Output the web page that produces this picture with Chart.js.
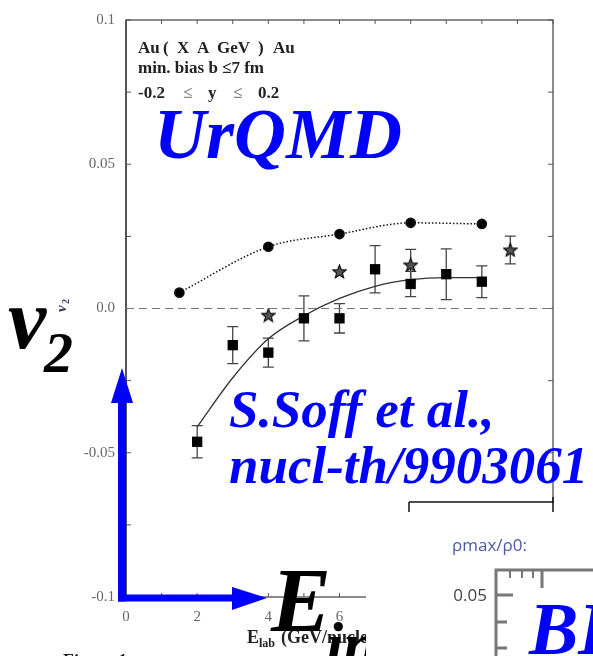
<!DOCTYPE html>
<html>
<head>
<meta charset="utf-8">
<script src="https://cdn.jsdelivr.net/npm/chart.js@4.4.1/dist/chart.umd.min.js"></script>
<style>
  html, body { margin: 0; padding: 0; background: #fff; }
  #wrap { position: relative; width: 593px; height: 656px; }
</style>
</head>
<body>
<div id="wrap"><canvas id="chart" width="593" height="656"></canvas></div>
<script>
// v2 at midrapidity vs beam energy, Au+Au (UrQMD vs data)

// axis ranges and tick labels
const xRange = [0, 12];
const yRange = [-0.1, 0.1];
const yTickLabels = ['-0.1', '-0.05', '0.0', '0.05', '0.1'];

// UrQMD (circles, dotted line)
const energyUrqmd = [1.5, 4, 6, 8, 10];
const v2Urqmd = [0.0055, 0.0214, 0.0258, 0.0297, 0.0293];

// data (squares)
const energyData = [2, 3, 4, 5, 6, 7, 8, 9, 10];
const v2Data = [-0.0462, -0.0127, -0.0153, -0.0034, -0.0034, 0.0136, 0.0085, 0.0119, 0.0093];
const v2DataErr = [0.0056, 0.0064, 0.005, 0.0078, 0.0051, 0.0082, 0.0044, 0.0088, 0.0055];

// stars
const energyStar = [4, 6, 8, 10.8];
const v2Star = [-0.0023, 0.0128, 0.0151, 0.0203];
const v2StarErr = [0, 0, 0.0054, 0.0048];

// solid curve through the squares
const energyFit = [2, 3, 4, 5, 6, 7, 8, 9, 10];
const v2Fit = [-0.041, -0.024, -0.0105, -0.0025, 0.0035, 0.0077, 0.0100, 0.0107, 0.0107];

// dashed zero line
const zeroLineX = [0, 12];
const zeroLineY = [0, 0];

const toPoints = (xs, ys) => xs.map((x, i) => ({ x: x, y: ys[i] }));

// small star for the marker
function makeStar() {
  const c = document.createElement('canvas');
  c.width = 15; c.height = 15;
  const g = c.getContext('2d');
  g.beginPath();
  for (let i = 0; i < 10; i++) {
    const r = i % 2 === 0 ? 7 : 3;
    const a = -Math.PI / 2 + i * Math.PI / 5;
    const px = 7.5 + r * Math.cos(a), py = 8 + r * Math.sin(a);
    if (i === 0) g.moveTo(px, py); else g.lineTo(px, py);
  }
  g.closePath();
  g.fillStyle = '#555';
  g.fill();
  g.strokeStyle = '#111';
  g.lineWidth = 1.2;
  g.stroke();
  return c;
}

const SERIF = '"Liberation Serif", "Times New Roman", serif';

// frame, inward ticks and error bars
const framePlugin = {
  id: 'frame',
  beforeDatasetsDraw(chart) {
    const ctx = chart.ctx;
    const { left, right, top, bottom } = chart.chartArea;
    const xs = chart.scales.x, ys = chart.scales.y;
    ctx.save();
    ctx.strokeStyle = '#666';
    ctx.lineWidth = 1.5;
    ctx.strokeRect(left, top, right - left, bottom - top);
    ctx.strokeStyle = '#555';
    ctx.lineWidth = 2;
    ctx.beginPath(); ctx.moveTo(left, top); ctx.lineTo(left, bottom); ctx.stroke();

    ctx.lineWidth = 1;
    ctx.strokeStyle = '#555';
    ctx.beginPath();
    for (let v = xRange[0]; v <= xRange[1]; v += 1) {
      const px = xs.getPixelForValue(v);
      ctx.moveTo(px, bottom); ctx.lineTo(px, bottom - 4);
      ctx.moveTo(px, top); ctx.lineTo(px, top + 4);
    }
    for (let k = 0; k <= 8; k++) {
      const py = ys.getPixelForValue(yRange[0] + k * 0.025);
      ctx.moveTo(left, py); ctx.lineTo(left + 5, py);
      ctx.moveTo(right, py); ctx.lineTo(right - 5, py);
    }
    ctx.stroke();

    // error bars
    ctx.strokeStyle = '#444';
    ctx.lineWidth = 1.3;
    chart.data.datasets.forEach((ds, di) => {
      if (!ds.errors) return;
      const meta = chart.getDatasetMeta(di);
      meta.data.forEach((pt, i) => {
        const e = ds.errors[i];
        if (!e) return;
        const yv = ds.data[i].y;
        const y1 = ys.getPixelForValue(yv + e);
        const y2 = ys.getPixelForValue(yv - e);
        ctx.beginPath();
        ctx.moveTo(pt.x, y1); ctx.lineTo(pt.x, y2);
        ctx.moveTo(pt.x - 5.5, y1); ctx.lineTo(pt.x + 5.5, y1);
        ctx.moveTo(pt.x - 5.5, y2); ctx.lineTo(pt.x + 5.5, y2);
        ctx.stroke();
      });
    });
    ctx.restore();
  }
};

// texts, pasted pieces and arrows on top of the plot
const overlayPlugin = {
  id: 'overlay',
  afterDraw(chart) {
    const ctx = chart.ctx;
    ctx.save();
    ctx.textBaseline = 'alphabetic';
    ctx.textAlign = 'left';

    // inner legend text
    ctx.fillStyle = '#222';
    ctx.font = 'bold 17px ' + SERIF;
    [['Au', 138], ['(', 163], ['X', 177], ['A', 197], ['GeV', 217], [')', 258], ['Au', 273]]
      .forEach(([t, x]) => ctx.fillText(t, x, 53));
    ctx.fillText('min. bias b \u22647 fm', 138, 73);
    [['-0.2', 138], ['\u2264', 183], ['y', 208], ['\u2264', 233], ['0.2', 258]]
      .forEach(([t, x]) => {
        ctx.fillStyle = t === '\u2264' ? '#888' : '#222';
        ctx.fillText(t, x, 98);
      });

    // small rotated axis title
    ctx.save();
    ctx.translate(66, 312);
    ctx.rotate(-Math.PI / 2);
    ctx.fillStyle = '#3b3b5c';
    ctx.font = 'italic bold 15px ' + SERIF;
    ctx.fillText('v', 0, 0);
    ctx.font = 'bold 10px ' + SERIF;
    ctx.fillText('2', 8, 3);
    ctx.restore();

    // x axis title
    ctx.fillStyle = '#222';
    ctx.font = 'bold 18px ' + SERIF;
    ctx.fillText('E', 247, 643);
    ctx.font = 'bold 12px ' + SERIF;
    ctx.fillText('lab', 259, 647);
    ctx.font = 'bold 18px ' + SERIF;
    ctx.fillText('(GeV/nucleon)', 281, 643);
    ctx.fillText('Figure 1:', 63, 667);

    // big E_in, cut by the pasted piece
    ctx.fillStyle = '#000';
    ctx.font = 'italic bold 90px ' + SERIF;
    ctx.fillText('E', 271, 631);
    ctx.font = 'italic bold 62px ' + SERIF;
    ctx.fillText('in', 326, 665);

    // pasted white piece with the second figure
    ctx.fillStyle = '#fff';
    ctx.fillRect(366, 512, 227, 144);
    ctx.fillRect(409, 503, 184, 9);
    ctx.fillRect(554, 0, 39, 512);
    ctx.strokeStyle = '#111';
    ctx.lineWidth = 1.5;
    ctx.beginPath();
    ctx.moveTo(409, 502); ctx.lineTo(553, 502);
    ctx.moveTo(409, 502); ctx.lineTo(409, 512);
    ctx.moveTo(553, 497); ctx.lineTo(553, 512);
    ctx.stroke();

    ctx.fillStyle = '#4a5aa6';
    ctx.font = '17px "Open Sans", "DejaVu Sans", sans-serif';
    ctx.fillText('\u03c1max/\u03c10:', 452, 551);

    ctx.strokeStyle = '#777';
    ctx.lineWidth = 3;
    ctx.beginPath();
    ctx.moveTo(496, 660); ctx.lineTo(496, 570); ctx.lineTo(600, 570);
    ctx.moveTo(496, 595); ctx.lineTo(513, 595);
    ctx.moveTo(496, 622); ctx.lineTo(507, 622);
    ctx.moveTo(496, 648); ctx.lineTo(507, 648);
    ctx.moveTo(542, 570); ctx.lineTo(542, 588);
    ctx.stroke();
    ctx.lineWidth = 2;
    ctx.beginPath();
    [510, 522, 533].forEach(x => { ctx.moveTo(x, 570); ctx.lineTo(x, 578); });
    ctx.stroke();
    ctx.fillStyle = '#444';
    ctx.font = '17px "Open Sans", "DejaVu Sans", sans-serif';
    ctx.textAlign = 'right';
    ctx.fillText('0.05', 487, 601);
    ctx.textAlign = 'left';

    // blue arrows
    ctx.fillStyle = '#0000ff';
    ctx.fillRect(118, 400, 8, 201.5);
    ctx.beginPath();
    ctx.moveTo(122, 368); ctx.lineTo(111, 403); ctx.lineTo(133, 403); ctx.closePath();
    ctx.fill();
    ctx.fillRect(118, 594.5, 116, 7);
    ctx.beginPath();
    ctx.moveTo(267, 598); ctx.lineTo(232, 587); ctx.lineTo(232, 610); ctx.closePath();
    ctx.fill();

    // big annotations
    ctx.fillStyle = '#0000ff';
    ctx.font = 'italic bold 72px ' + SERIF;
    ctx.fillText('UrQMD', 154, 158);
    ctx.font = 'italic bold 53px ' + SERIF;
    ctx.fillText('S.Soff et al.,', 229, 427);
    ctx.fillText('nucl-th/9903061', 229, 483);
    ctx.font = 'italic bold 74px ' + SERIF;
    ctx.fillText('BI', 529, 654);

    ctx.fillStyle = '#000';
    ctx.font = 'italic bold 86px ' + SERIF;
    ctx.fillText('v', 8, 348);
    ctx.font = 'italic bold 58px ' + SERIF;
    ctx.fillText('2', 44, 372);
    ctx.restore();
  }
};

const ctx = document.getElementById('chart').getContext('2d');
new Chart(ctx, {
  type: 'scatter',
  data: {
    datasets: [
      {
        label: 'data',
        data: toPoints(energyData, v2Data),
        errors: v2DataErr,
        pointStyle: 'rect',
        pointRadius: 7.3,
        backgroundColor: '#000',
        borderColor: '#000',
        borderWidth: 0,
        showLine: false
      },
      {
        label: 'stars',
        data: toPoints(energyStar, v2Star),
        errors: v2StarErr,
        pointStyle: makeStar(),
        pointRadius: 7,
        showLine: false
      },
      {
        label: 'UrQMD',
        data: toPoints(energyUrqmd, v2Urqmd),
        pointStyle: 'circle',
        pointRadius: 4.6,
        backgroundColor: '#000',
        borderColor: '#111',
        borderWidth: 1.5,
        borderDash: [1.5, 2],
        showLine: true,
        cubicInterpolationMode: 'monotone'
      },
      {
        label: 'fit',
        data: toPoints(energyFit, v2Fit),
        pointRadius: 0,
        borderColor: '#333',
        borderWidth: 1.3,
        showLine: true,
        cubicInterpolationMode: 'monotone'
      },
      {
        label: 'zero',
        data: toPoints(zeroLineX, zeroLineY),
        pointRadius: 0,
        borderColor: '#777',
        borderWidth: 1.2,
        borderDash: [8, 5],
        showLine: true
      }
    ]
  },
  options: {
    responsive: false,
    animation: false,
    devicePixelRatio: 1,
    layout: { padding: { left: 0, right: 40, top: 20, bottom: 0 } },
    plugins: {
      legend: { display: false },
      title: { display: false },
      tooltip: { enabled: false }
    },
    scales: {
      x: {
        type: 'linear',
        min: xRange[0],
        max: xRange[1],
        grid: { display: false, drawTicks: false },
        border: { display: false },
        ticks: {
          stepSize: 2,
          padding: 11,
          color: '#666',
          font: { family: SERIF, size: 15 }
        },
        afterFit: (scale) => { scale.height = 59; }
      },
      y: {
        type: 'linear',
        min: yRange[0],
        max: yRange[1],
        grid: { display: false, drawTicks: false },
        border: { display: false },
        ticks: {
          stepSize: 0.05,
          padding: 11,
          color: '#666',
          font: { family: SERIF, size: 15 },
          callback: (v, i) => yTickLabels[i]
        },
        afterFit: (scale) => { scale.width = 126; }
      }
    }
  },
  plugins: [framePlugin, overlayPlugin]
});
</script>
</body>
</html>
